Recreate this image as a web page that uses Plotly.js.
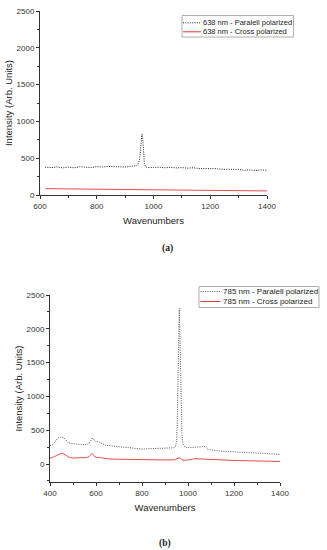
<!DOCTYPE html>
<html>
<head>
<meta charset="utf-8">
<script src="https://cdn.plot.ly/plotly-3.0.1.min.js"></script>
<style>
html,body{margin:0;padding:0;background:#fff;}
#chart{width:327px;height:550px;}
</style>
</head>
<body>
<div id="chart"></div>
<script>
// ---- Data (a): 638 nm ----
const a_par_x = [618,640,660,680,700,720,740,760,780,800,820,840,860,880,900,920,940,945,950,953,956,959,962,965,968,972,978,1000,1020,1040,1060,1080,1100,1120,1140,1160,1180,1200,1220,1240,1260,1280,1300,1320,1340,1360,1380,1400];
const a_par_y = [378,372,382,368,378,370,384,376,372,386,380,388,382,386,380,392,398,410,470,560,720,830,760,560,430,385,372,374,378,370,376,368,372,365,370,360,362,355,358,350,352,345,348,336,342,333,340,336];
const a_cross_x = [618,660,700,740,780,820,860,900,940,955,965,975,1000,1040,1080,1120,1160,1200,1240,1280,1320,1360,1400];
const a_cross_y = [86,84,82,80,79,78,76,75,76,78,74,68,67,66,64,63,61,60,59,58,57,56,55];

// ---- Data (b): 785 nm ----
const b_par_x = [400,410,420,430,440,450,460,470,480,490,500,520,540,560,570,580,585,590,600,610,620,640,660,680,700,720,740,760,780,800,820,840,860,880,900,920,940,945,950,953,956,959,962,965,968,971,974,978,985,1000,1020,1040,1060,1070,1078,1085,1100,1120,1140,1160,1180,1200,1220,1240,1260,1280,1300,1320,1340,1360,1380,1400];
const b_par_y = [270,285,320,370,395,400,390,350,315,305,300,292,285,290,310,360,385,360,330,335,310,280,268,262,255,250,240,232,225,220,225,228,230,232,235,230,240,255,330,550,1000,1700,2300,1900,1200,700,420,300,255,242,244,248,255,262,245,215,205,200,192,188,185,180,176,172,168,165,160,156,153,150,147,143];
const b_cross_x = [400,410,420,430,440,450,460,470,480,490,500,520,540,560,570,578,583,588,595,605,615,625,640,660,680,700,740,780,820,860,900,940,955,962,968,975,990,1000,1020,1030,1045,1060,1080,1100,1140,1180,1220,1260,1300,1340,1380,1400];
const b_cross_y = [85,95,110,130,150,158,150,125,105,95,88,92,90,95,110,140,158,140,105,95,100,90,80,75,72,70,68,66,65,63,60,62,75,92,80,60,55,58,72,78,76,68,62,58,55,52,50,48,45,43,40,38];

// ---- Labels ----
const a_names = ["638 nm - Paralell polarized", "638 nm - Cross polarized"];
const b_names = ["785 nm - Paralell polarized", "785 nm - Cross polarized"];
const xTitle = "Wavenumbers";
const yTitle = "Intensity (Arb. Units)";
const captions = ["(a)", "(b)"];

const W = 327, H = 550;
const px = v => v / W;
const py = v => 1 - v / H;
const FONT = "Liberation Sans, Arial, sans-serif";
const RED = "#e23a3a";

const traces = [
  {x:a_par_x, y:a_par_y, xaxis:'x', yaxis:'y', type:'scatter', mode:'lines', name:a_names[0],
   line:{color:'#222', width:1, dash:'1px,1.3px'}, showlegend:false},
  {x:a_cross_x, y:a_cross_y, xaxis:'x', yaxis:'y', type:'scatter', mode:'lines', name:a_names[1],
   line:{color:RED, width:0.9}, showlegend:false},
  {x:b_par_x, y:b_par_y, xaxis:'x2', yaxis:'y2', type:'scatter', mode:'lines', name:b_names[0],
   line:{color:'#555', width:1, dash:'1px,1.3px'}, showlegend:false},
  {x:b_cross_x, y:b_cross_y, xaxis:'x2', yaxis:'y2', type:'scatter', mode:'lines', name:b_names[1],
   line:{color:RED, width:0.9}, showlegend:false}
];

function xax(domain, range, anchor){
  return {domain:domain, range:range, anchor:anchor, dtick:200, tick0:0,
    showline:true, linecolor:'#333', linewidth:1, ticks:'outside', ticklen:3, tickcolor:'#333',
    showgrid:false, zeroline:false, tickfont:{family:FONT, size:8, color:'#333'},
    minor:{dtick:100, ticks:'outside', ticklen:2, tickcolor:'#333', showgrid:false},
    title:{text:xTitle, font:{family:FONT, size:9.5, color:'#222'}, standoff:7}};
}
function yax(domain, range, anchor){
  return {domain:domain, range:range, anchor:anchor, dtick:500, tick0:0,
    showline:true, linecolor:'#333', linewidth:1, ticks:'outside', ticklen:3, tickcolor:'#333',
    showgrid:false, zeroline:false, tickfont:{family:FONT, size:8, color:'#333'},
    minor:{dtick:250, ticks:'outside', ticklen:2, tickcolor:'#333', showgrid:false},
    title:{text:yTitle, font:{family:FONT, size:9.5, color:'#222'}, standoff:2}};
}

const shapes = [];
const annotations = [];
function legend(box, rows, fsize){
  shapes.push({type:'rect', xref:'paper', yref:'paper', x0:px(box[0]), x1:px(box[1]), y0:py(box[2]), y1:py(box[3]),
    line:{color:'#9a9a9a', width:0.8}, fillcolor:'rgba(255,255,255,0)'});
  rows.forEach(r => {
    shapes.push({type:'line', xref:'paper', yref:'paper', x0:px(r.l0), x1:px(r.l1), y0:py(r.y), y1:py(r.y),
      line:{color:r.color, width:1, dash:r.dash}});
    annotations.push({xref:'paper', yref:'paper', x:px(r.tx), y:py(r.y), xanchor:'left', yanchor:'middle',
      text:r.text, showarrow:false, borderpad:0, font:{family:FONT, size:fsize, color:'#222'}});
  });
}
legend([182, 293.5, 15.5, 37], [
  {l0:183, l1:201, tx:201.5, y:22.8, color:'#222', dash:'1px,1.3px', text:a_names[0]},
  {l0:183, l1:201, tx:201.5, y:31.8, color:RED, dash:'solid', text:a_names[1]}
], 7.5);
legend([199, 319, 286.5, 307.5], [
  {l0:200.5, l1:220.5, tx:222, y:291.5, color:'#555', dash:'1px,1.3px', text:b_names[0]},
  {l0:200.5, l1:220.5, tx:222, y:301.5, color:RED, dash:'solid', text:b_names[1]}
], 8);

annotations.push({xref:'paper', yref:'paper', x:px(167), y:py(249), xanchor:'center', yanchor:'middle',
  text:'<b>'+captions[0]+'</b>', showarrow:false, font:{family:'Liberation Serif, Times New Roman, serif', size:9.5, color:'#222'}});
annotations.push({xref:'paper', yref:'paper', x:px(165), y:py(543), xanchor:'center', yanchor:'middle',
  text:'<b>'+captions[1]+'</b>', showarrow:false, font:{family:'Liberation Serif, Times New Roman, serif', size:9.5, color:'#222'}});

const layout = {
  width:W, height:H, margin:{l:0, r:0, t:0, b:0},
  paper_bgcolor:'#fff', plot_bgcolor:'#fff', showlegend:false, hovermode:false,
  xaxis: xax([px(40), px(267)], [600, 1400], 'y'),
  yaxis: yax([py(195), py(11)], [0, 2500], 'x'),
  xaxis2: xax([px(50), px(280)], [400, 1400], 'y2'),
  yaxis2: yax([py(482), py(295)], [-266, 2500], 'x2'),
  shapes: shapes, annotations: annotations
};

Plotly.newPlot('chart', traces, layout, {displayModeBar:false, staticPlot:true});
</script>
</body>
</html>
